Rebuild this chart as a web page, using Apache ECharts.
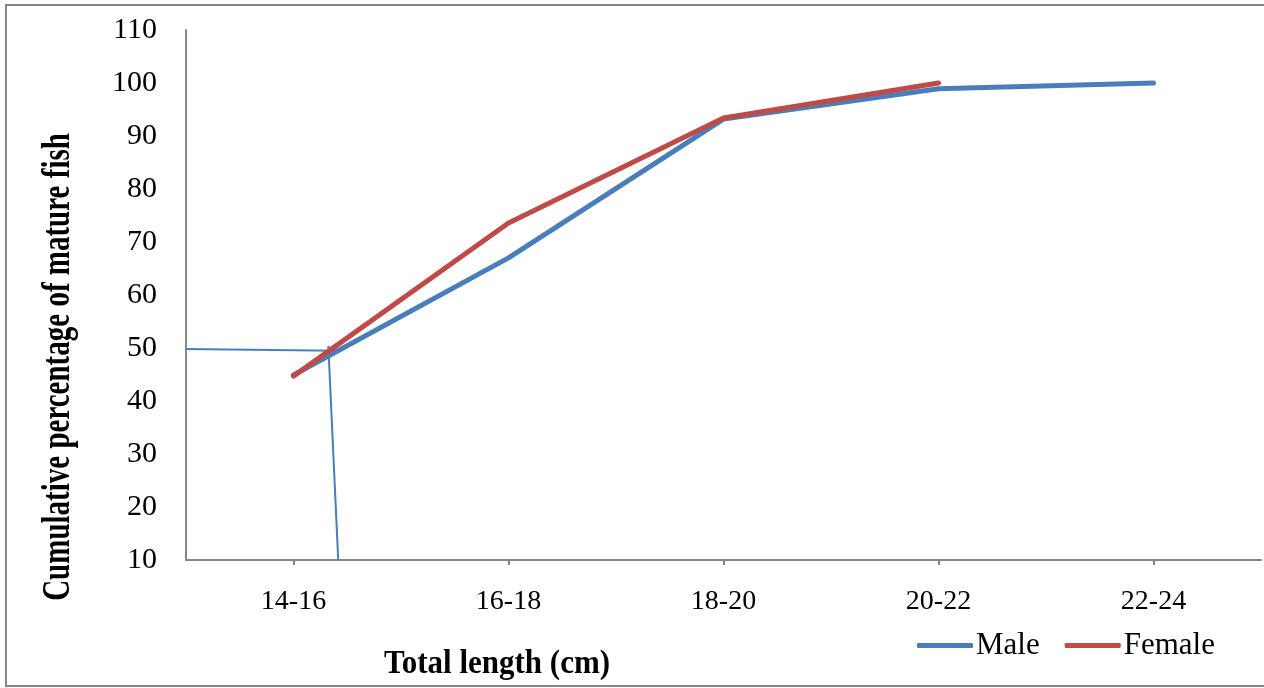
<!DOCTYPE html>
<html>
<head>
<meta charset="utf-8">
<script src="https://cdn.jsdelivr.net/npm/echarts@6/dist/echarts.min.js"></script>
<style>
html,body{margin:0;padding:0;background:#fff;}
#chart{width:1264px;height:688px;}
</style>
</head>
<body>
<div id="chart"></div>
<script>
const categories = ['14-16', '16-18', '18-20', '20-22', '22-24'];
const maleValues = [44.9, 67, 93.2, 98.9, 100];
const femaleValues = [44.7, 73.6, 93.4, 100, null];
// hand-drawn L50 guide lines (x in category-slot units 0..5, y in %)
const guideHorizontal = [[0, 49.8], [0.70, 49.5]];
const guideVertical = [[0.662, 50.4], [0.708, 10]];
const yTicks = {min: 10, max: 110, interval: 10};

const serif = '"Liberation Serif", "Times New Roman", serif';
const chart = echarts.init(document.getElementById('chart'));
chart.setOption({
  animation: false,
  backgroundColor: '#fff',
  grid: {left: 186, right: 3, top: 30, bottom: 128, containLabel: false},
  xAxis: [{
    type: 'category',
    data: categories,
    boundaryGap: true,
    axisLine: {lineStyle: {color: '#868686', width: 2}},
    axisTick: {show: true, alignWithLabel: true, length: 5, lineStyle: {color: '#868686', width: 2}},
    axisLabel: {fontFamily: serif, fontSize: 28, color: '#000', margin: 28},
    splitLine: {show: false}
  }, {
    type: 'value', min: 0, max: 5, show: false, position: 'bottom'
  }],
  yAxis: {
    type: 'value',
    min: yTicks.min, max: yTicks.max, interval: yTicks.interval,
    axisLine: {show: true, lineStyle: {color: '#868686', width: 2}},
    axisTick: {show: false},
    axisLabel: {fontFamily: serif, fontSize: 30, color: '#000', margin: 29},
    splitLine: {show: false}
  },
  legend: {
    data: ['Male', 'Female'],
    left: 912, top: 625,
    icon: 'roundRect',
    itemWidth: 56, itemHeight: 5,
    itemGap: 25,
    textStyle: {fontFamily: serif, fontSize: 31, color: '#000', padding: [0,0,0,-2]}
  },
  graphic: [
    {type: 'rect', shape: {x: 6, y: 5, width: 1300, height: 681}, style: {fill: 'none', stroke: '#868686', lineWidth: 2}, silent: true},
    {type: 'text', x: 497, y: 664, scaleY: 1.1, style: {text: 'Total length (cm)', font: 'bold 31px ' + serif, fill: '#000', textAlign: 'center', textVerticalAlign: 'middle'}},
    {type: 'text', x: 59, y: 367, rotation: Math.PI / 2, scaleY: 1.35, style: {text: 'Cumulative percentage of mature fish', font: 'bold 29px ' + serif, fill: '#000', textAlign: 'center', textVerticalAlign: 'middle'}}
  ],
  series: [
    {name: 'Male', type: 'line', data: maleValues, showSymbol: false, symbol: 'none', color: '#4A7EBB',
     lineStyle: {width: 5, color: '#4A7EBB', cap: 'round', join: 'round'}, z: 3},
    {name: 'Female', type: 'line', data: femaleValues, showSymbol: false, symbol: 'none', color: '#BE4B48',
     lineStyle: {width: 5, color: '#BE4B48', cap: 'round', join: 'round'}, z: 4},
    {name: 'guideH', type: 'line', xAxisIndex: 1, data: guideHorizontal, showSymbol: false, symbol: 'none', silent: true,
     lineStyle: {width: 2, color: '#4A7EBB'}, z: 2},
    {name: 'guideV', type: 'line', xAxisIndex: 1, data: guideVertical, showSymbol: false, symbol: 'none', silent: true,
     lineStyle: {width: 2, color: '#4A7EBB'}, z: 2}
  ]
});
</script>
</body>
</html>
